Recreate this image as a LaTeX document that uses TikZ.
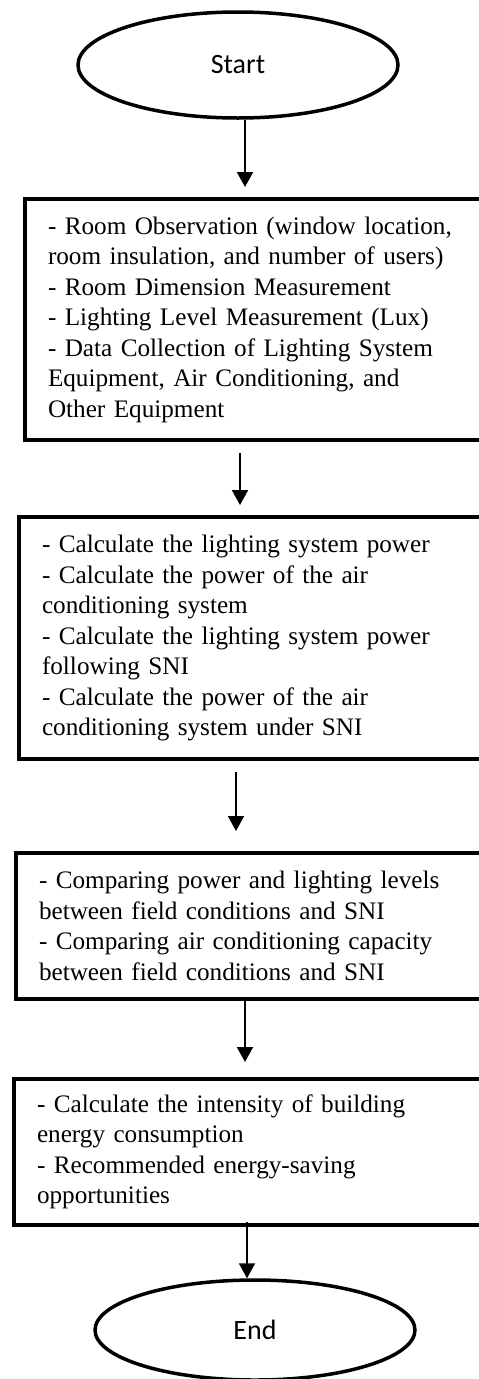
\documentclass[tikz,border=0pt]{standalone}
\usepackage{fontspec}
\setmainfont{Liberation Serif}
\newfontfamily\termfont{Carlito}
\usetikzlibrary{arrows.meta,positioning,shapes.geometric}
\tikzset{
  term/.style ={ellipse, draw=black, line width=3.5pt, minimum width=320pt,
                minimum height=106pt, inner sep=0pt, font=\termfont\fontsize{28}{32}\selectfont},
  stepbox/.style ={rectangle, draw=black, line width=4pt, anchor=north west,
                text width=430pt, align=left, inner xsep=23pt, inner ysep=0pt,
                font=\fontsize{25.2}{30.5}\selectfont},
  ar/.style   ={-{Triangle[length=15pt,width=16pt]}, draw=black, line width=2pt}
}
\begin{document}
\begin{tikzpicture}[x=1pt,y=-1pt]
\useasboundingbox (0,0) rectangle (479,1379);
\clip (0,0) rectangle (479,1379);
\node[term] (start) at (238,65) {Start};
\node[stepbox, minimum height=241pt] (obs) at (23,197)
  {- Room Observation (window location,\\
   room insulation, and number of users)\\
   - Room Dimension Measurement\\
   - Lighting Level Measurement (Lux)\\
   - Data Collection of Lighting System\\
   Equipment, Air Conditioning, and\\
   Other Equipment};
\node[stepbox, minimum height=242pt] (calc) at (17,515)
  {- Calculate the lighting system power\\
   - Calculate the power of the air\\
   conditioning system\\
   - Calculate the lighting system power\\
   following SNI\\
   - Calculate the power of the air\\
   conditioning system under SNI};
\node[stepbox, minimum height=146pt] (comp) at (14,851)
  {- Comparing power and lighting levels\\
   between field conditions and SNI\\
   - Comparing air conditioning capacity\\
   between field conditions and SNI};
\node[stepbox, minimum height=146pt] (rec) at (12,1077)
  {- Calculate the intensity of building\\
   energy consumption\\
   - Recommended energy-saving\\
   opportunities};
\node[term, minimum height=100pt] (end) at (255,1330) {End};
% arrow positions
\coordinate (c1) at (245,0);
\coordinate (c2) at (240,0);
\coordinate (c3) at (236,0);
\coordinate (c4) at (245,0);
\coordinate (c5) at (247,0);
\draw[ar, shorten >=10pt] (start.south -| c1) -- (obs.north -| c1);
\draw[ar, shorten <=11pt, shorten >=10pt] (obs.south -| c2) -- (calc.north -| c2);
\draw[ar, shorten <=11pt, shorten >=20pt] (calc.south -| c3) -- (comp.north -| c3);
\draw[ar, shorten >=15pt] (comp.south -| c4) -- (rec.north -| c4);
\draw[ar, shorten <=-5pt] (rec.south -| c5) -- (end.north -| c5);
\end{tikzpicture}
\end{document}
